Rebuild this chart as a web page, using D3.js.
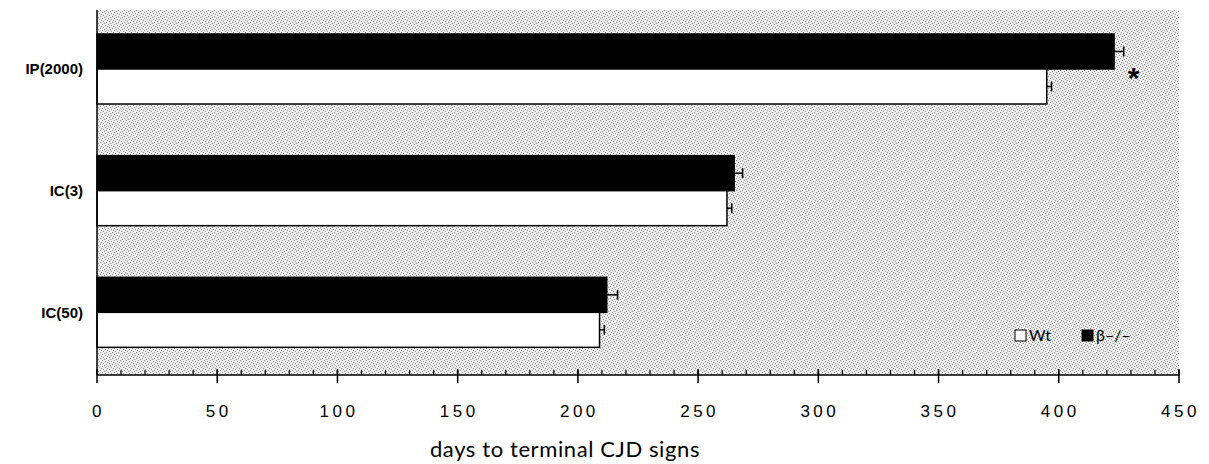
<!DOCTYPE html>
<html>
<head>
<meta charset="utf-8">
<script src="https://cdn.jsdelivr.net/npm/d3@7"></script>
<style>
  body { margin: 0; background: #fff; }
  svg { display: block; }
</style>
</head>
<body>
<svg id="chart"></svg>
<script>
const width = 1209;
const height = 464;

// data
const categories = ["IP(2000)", "IC(3)", "IC(50)"];
const series = ["β–/–", "Wt"];
const koDays = [423, 265, 212];
const koErr = [4, 3.5, 4.5];
const wtDays = [395, 262, 209];
const wtErr = [2, 2, 2];
const xTicks = [0, 50, 100, 150, 200, 250, 300, 350, 400, 450];
const minorTicks = d3.range(0, 451, 10);
const starred = ["IP(2000)"];

const plot = { left: 97, right: 1179, top: 10, bottom: 375 };

const svg = d3.select("#chart")
    .attr("width", width)
    .attr("height", height);

// stippled grey background, like the scanned print
const defs = svg.append("defs");
const pat = defs.append("pattern")
    .attr("id", "stipple")
    .attr("width", 6)
    .attr("height", 6)
    .attr("patternUnits", "userSpaceOnUse");
pat.append("rect").attr("width", 6).attr("height", 6).attr("fill", "#eeeeee");
[[0, 0], [3, 1], [1, 3], [4, 4], [2, 5], [5, 2]].forEach(([px, py]) => {
    pat.append("rect").attr("x", px).attr("y", py).attr("width", 1).attr("height", 1).attr("fill", "#8a8a8a");
});

svg.append("rect")
    .attr("x", plot.left)
    .attr("y", plot.top)
    .attr("width", plot.right - plot.left)
    .attr("height", plot.bottom - plot.top)
    .attr("fill", "url(#stipple)");

const x = d3.scaleLinear().domain([0, 450]).range([plot.left, plot.right]);
const y = d3.scaleBand().domain(categories).range([plot.top, plot.bottom]).padding(0);
const ySub = d3.scaleBand().domain(series).range([24, 94]);

const rows = categories.map((c, i) => ({
    cat: c,
    bars: [
        { s: series[0], v: koDays[i], e: koErr[i], fill: "#000" },
        { s: series[1], v: wtDays[i], e: wtErr[i], fill: "#fff" }
    ]
}));

const groups = svg.append("g")
  .selectAll("g")
  .data(rows)
  .join("g")
    .attr("transform", d => `translate(0,${y(d.cat)})`);

// error bars (one-sided)
const eb = groups.selectAll("g.err")
  .data(d => d.bars)
  .join("g")
    .attr("class", "err")
    .attr("stroke", "#000")
    .attr("stroke-width", 1.5);
eb.append("line")
    .attr("x1", d => x(d.v))
    .attr("x2", d => x(d.v + d.e))
    .attr("y1", d => ySub(d.s) + ySub.bandwidth() / 2)
    .attr("y2", d => ySub(d.s) + ySub.bandwidth() / 2);
eb.append("line")
    .attr("x1", d => x(d.v + d.e))
    .attr("x2", d => x(d.v + d.e))
    .attr("y1", d => ySub(d.s) + ySub.bandwidth() / 2 - 5)
    .attr("y2", d => ySub(d.s) + ySub.bandwidth() / 2 + 5);

groups.selectAll("rect")
  .data(d => d.bars)
  .join("rect")
    .attr("x", x(0))
    .attr("y", d => ySub(d.s))
    .attr("width", d => x(d.v) - x(0))
    .attr("height", ySub.bandwidth())
    .attr("fill", d => d.fill)
    .attr("stroke", "#000")
    .attr("stroke-width", 1.5);

// category labels
groups.append("text")
    .attr("x", plot.left - 14)
    .attr("y", ySub("Wt"))
    .attr("dy", "0.36em")
    .attr("text-anchor", "end")
    .attr("font-family", "Liberation Sans, Arial, sans-serif")
    .attr("font-weight", "bold")
    .attr("font-size", 15)
    .text(d => d.cat);

// significance star
groups.filter(d => starred.includes(d.cat))
  .append("text")
    .attr("x", d => x(d.bars[0].v + d.bars[0].e) + 10)
    .attr("y", ySub("Wt") + 19)
    .attr("text-anchor", "middle")
    .attr("font-family", "Liberation Sans, Arial, sans-serif")
    .attr("font-weight", "bold")
    .attr("font-size", 30)
    .text("*");

// left axis line
svg.append("line")
    .attr("x1", plot.left).attr("x2", plot.left)
    .attr("y1", plot.top).attr("y2", plot.bottom)
    .attr("stroke", "#000").attr("stroke-width", 1.5);

// bottom axis: minor ticks up, major ticks crossing
const axisG = svg.append("g").attr("transform", `translate(0,${plot.bottom})`);
axisG.append("line")
    .attr("x1", x(0)).attr("x2", x(450))
    .attr("stroke", "#000").attr("stroke-width", 1.5);
axisG.selectAll("line.minor")
  .data(minorTicks)
  .join("line")
    .attr("class", "minor")
    .attr("x1", d => x(d)).attr("x2", d => x(d))
    .attr("y1", -5).attr("y2", 0)
    .attr("stroke", "#000").attr("stroke-width", 1.2);
axisG.selectAll("line.major")
  .data(xTicks)
  .join("line")
    .attr("class", "major")
    .attr("x1", d => x(d)).attr("x2", d => x(d))
    .attr("y1", -6).attr("y2", 8)
    .attr("stroke", "#000").attr("stroke-width", 1.5);
axisG.selectAll("text")
  .data(xTicks)
  .join("text")
    .attr("x", d => x(d) + 1.5)
    .attr("y", 42)
    .attr("text-anchor", "middle")
    .attr("font-family", "Liberation Sans, Arial, sans-serif")
    .attr("font-size", 17)
    .attr("letter-spacing", 3.5)
    .text(d => d);

// axis title
svg.append("text")
    .attr("x", 565)
    .attr("y", 457)
    .attr("text-anchor", "middle")
    .attr("font-family", "Lato, 'Open Sans', sans-serif")
    .attr("font-size", 22)
    .attr("letter-spacing", 0.6)
    .text("days to terminal CJD signs");

// legend
const legend = svg.append("g").attr("transform", "translate(1015,330)");
const legendItems = [
    { label: "Wt", fill: "#fff", dx: 0 },
    { label: "β–/–", fill: "#000", dx: 67 }
];
const li = legend.selectAll("g")
  .data(legendItems)
  .join("g")
    .attr("transform", d => `translate(${d.dx},0)`);
li.append("rect")
    .attr("width", 11).attr("height", 11)
    .attr("fill", d => d.fill)
    .attr("stroke", "#000").attr("stroke-width", 1);
li.append("text")
    .attr("x", 14)
    .attr("y", 11)
    .attr("font-family", "Lato, 'Open Sans', sans-serif")
    .attr("font-size", 16)
    .text(d => d.label);
</script>
</body>
</html>
